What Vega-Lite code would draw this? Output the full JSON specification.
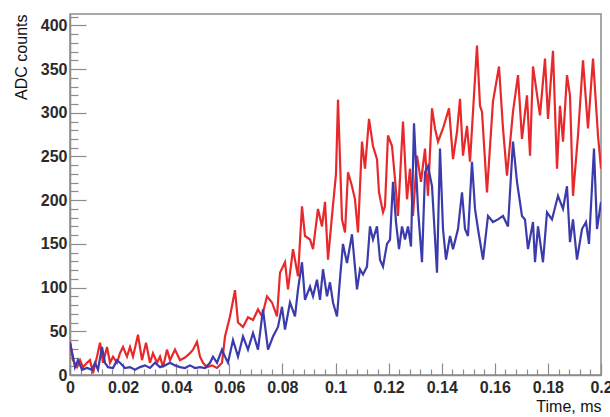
{
  "$schema": "https://vega.github.io/schema/vega-lite/v6.json",
  "width": 531,
  "height": 361,
  "autosize": {"type": "none"},
  "padding": {"left": 70, "top": 14, "right": 9, "bottom": 42},
  "background": "white",
  "view": {"stroke": "#8c8c8c", "strokeWidth": 1.5},
  "config": {
    "axis": {
      "grid": false,
      "labelFont": "Liberation Sans",
      "titleFont": "Liberation Sans",
      "labelFontSize": 16,
      "titleFontSize": 16,
      "labelFontWeight": "bold",
      "labelColor": "#2a2a2a",
      "titleColor": "#111111",
      "titleFontWeight": "normal",
      "domainColor": "#8c8c8c",
      "domainWidth": 1.5,
      "tickColor": "#8c8c8c",
      "tickWidth": 1.2
    }
  },
  "datasets": {
    "red": [
      {"t": 0, "v": 38}, {"t": 0.00113, "v": 17}, {"t": 0.00264, "v": 9}, {"t": 0.00377, "v": 17}, {"t": 0.0049, "v": 9},
      {"t": 0.0064, "v": 14}, {"t": 0.00753, "v": 17}, {"t": 0.00866, "v": 2}, {"t": 0.01017, "v": 21}, {"t": 0.0113, "v": 37},
      {"t": 0.01243, "v": 14}, {"t": 0.01394, "v": 32}, {"t": 0.01507, "v": 14}, {"t": 0.0162, "v": 21}, {"t": 0.0177, "v": 14},
      {"t": 0.01883, "v": 25}, {"t": 0.01996, "v": 32}, {"t": 0.02147, "v": 21}, {"t": 0.0226, "v": 32}, {"t": 0.02373, "v": 21},
      {"t": 0.02561, "v": 46}, {"t": 0.02712, "v": 17}, {"t": 0.02863, "v": 37}, {"t": 0.03013, "v": 14}, {"t": 0.03126, "v": 25},
      {"t": 0.03277, "v": 14}, {"t": 0.0339, "v": 21}, {"t": 0.03503, "v": 9}, {"t": 0.03653, "v": 29}, {"t": 0.03766, "v": 17},
      {"t": 0.03955, "v": 29}, {"t": 0.04143, "v": 17}, {"t": 0.04331, "v": 20}, {"t": 0.0452, "v": 25}, {"t": 0.04633, "v": 29},
      {"t": 0.04783, "v": 38}, {"t": 0.04896, "v": 21}, {"t": 0.05009, "v": 14}, {"t": 0.0516, "v": 9}, {"t": 0.05348, "v": 11},
      {"t": 0.05537, "v": 8}, {"t": 0.05725, "v": 14}, {"t": 0.05838, "v": 44}, {"t": 0.06026, "v": 67}, {"t": 0.06215, "v": 97},
      {"t": 0.06328, "v": 60}, {"t": 0.06516, "v": 55}, {"t": 0.06704, "v": 66}, {"t": 0.06893, "v": 63}, {"t": 0.07081, "v": 75},
      {"t": 0.07232, "v": 67}, {"t": 0.0742, "v": 90}, {"t": 0.07608, "v": 83}, {"t": 0.07797, "v": 67}, {"t": 0.0791, "v": 117},
      {"t": 0.08098, "v": 129}, {"t": 0.08211, "v": 98}, {"t": 0.08399, "v": 144}, {"t": 0.08588, "v": 113}, {"t": 0.08738, "v": 193},
      {"t": 0.08851, "v": 159}, {"t": 0.0904, "v": 155}, {"t": 0.09153, "v": 144}, {"t": 0.09341, "v": 190}, {"t": 0.09492, "v": 170},
      {"t": 0.09605, "v": 198}, {"t": 0.09718, "v": 132}, {"t": 0.09868, "v": 182}, {"t": 0.10019, "v": 230}, {"t": 0.10094, "v": 315},
      {"t": 0.10245, "v": 178}, {"t": 0.10358, "v": 163}, {"t": 0.10471, "v": 232}, {"t": 0.10621, "v": 216}, {"t": 0.10734, "v": 201},
      {"t": 0.10847, "v": 163}, {"t": 0.10998, "v": 267}, {"t": 0.11111, "v": 236}, {"t": 0.11262, "v": 293}, {"t": 0.11412, "v": 262},
      {"t": 0.11563, "v": 247}, {"t": 0.11638, "v": 209}, {"t": 0.11789, "v": 186}, {"t": 0.11864, "v": 193}, {"t": 0.11977, "v": 274},
      {"t": 0.12128, "v": 262}, {"t": 0.12241, "v": 224}, {"t": 0.12354, "v": 182}, {"t": 0.12542, "v": 290}, {"t": 0.12693, "v": 201},
      {"t": 0.12806, "v": 236}, {"t": 0.12919, "v": 182}, {"t": 0.1307, "v": 251}, {"t": 0.1322, "v": 221}, {"t": 0.13371, "v": 259},
      {"t": 0.13484, "v": 205}, {"t": 0.13635, "v": 305}, {"t": 0.13748, "v": 282}, {"t": 0.13861, "v": 267}, {"t": 0.14049, "v": 282},
      {"t": 0.14275, "v": 305}, {"t": 0.14426, "v": 247}, {"t": 0.14576, "v": 278}, {"t": 0.14689, "v": 316}, {"t": 0.14802, "v": 251},
      {"t": 0.14953, "v": 285}, {"t": 0.15066, "v": 244}, {"t": 0.15329, "v": 377}, {"t": 0.15443, "v": 308}, {"t": 0.15518, "v": 301},
      {"t": 0.15706, "v": 209}, {"t": 0.15932, "v": 313}, {"t": 0.16158, "v": 353}, {"t": 0.16309, "v": 282}, {"t": 0.16459, "v": 228},
      {"t": 0.16685, "v": 301}, {"t": 0.16874, "v": 343}, {"t": 0.17024, "v": 270}, {"t": 0.17213, "v": 320}, {"t": 0.17326, "v": 251},
      {"t": 0.17439, "v": 353}, {"t": 0.17702, "v": 297}, {"t": 0.17891, "v": 362}, {"t": 0.18004, "v": 293}, {"t": 0.18192, "v": 371},
      {"t": 0.18343, "v": 236}, {"t": 0.18456, "v": 308}, {"t": 0.18569, "v": 267}, {"t": 0.18719, "v": 343}, {"t": 0.18832, "v": 320},
      {"t": 0.18945, "v": 205}, {"t": 0.19133, "v": 274}, {"t": 0.19322, "v": 360}, {"t": 0.1951, "v": 282}, {"t": 0.19699, "v": 362},
      {"t": 0.19887, "v": 274}, {"t": 0.2, "v": 236}
    ],
    "blue": [
      {"t": 0, "v": 37}, {"t": 0.00113, "v": 21}, {"t": 0.00188, "v": 9}, {"t": 0.00301, "v": 17}, {"t": 0.00452, "v": 6},
      {"t": 0.0064, "v": 8}, {"t": 0.00829, "v": 6}, {"t": 0.00942, "v": 14}, {"t": 0.01055, "v": 6}, {"t": 0.01205, "v": 32},
      {"t": 0.01318, "v": 14}, {"t": 0.01431, "v": 9}, {"t": 0.0162, "v": 8}, {"t": 0.0177, "v": 17}, {"t": 0.01883, "v": 14},
      {"t": 0.02072, "v": 8}, {"t": 0.0226, "v": 9}, {"t": 0.02448, "v": 6}, {"t": 0.02637, "v": 9}, {"t": 0.02825, "v": 11},
      {"t": 0.03013, "v": 8}, {"t": 0.03202, "v": 14}, {"t": 0.0339, "v": 9}, {"t": 0.03578, "v": 11}, {"t": 0.03766, "v": 14},
      {"t": 0.03955, "v": 11}, {"t": 0.04143, "v": 9}, {"t": 0.04331, "v": 8}, {"t": 0.0452, "v": 11}, {"t": 0.04708, "v": 8},
      {"t": 0.04896, "v": 9}, {"t": 0.05085, "v": 8}, {"t": 0.05273, "v": 14}, {"t": 0.05386, "v": 21}, {"t": 0.05537, "v": 14},
      {"t": 0.05725, "v": 29}, {"t": 0.05838, "v": 21}, {"t": 0.05951, "v": 14}, {"t": 0.06139, "v": 40}, {"t": 0.06328, "v": 21},
      {"t": 0.06516, "v": 44}, {"t": 0.06704, "v": 29}, {"t": 0.06893, "v": 48}, {"t": 0.07081, "v": 29}, {"t": 0.07269, "v": 75},
      {"t": 0.07458, "v": 29}, {"t": 0.07646, "v": 44}, {"t": 0.07834, "v": 55}, {"t": 0.07985, "v": 78}, {"t": 0.08098, "v": 52},
      {"t": 0.08286, "v": 83}, {"t": 0.08475, "v": 67}, {"t": 0.08588, "v": 98}, {"t": 0.08738, "v": 129}, {"t": 0.08851, "v": 86},
      {"t": 0.0904, "v": 101}, {"t": 0.09153, "v": 90}, {"t": 0.09303, "v": 109}, {"t": 0.09416, "v": 86}, {"t": 0.09529, "v": 121},
      {"t": 0.0968, "v": 90}, {"t": 0.09793, "v": 106}, {"t": 0.09906, "v": 83}, {"t": 0.10056, "v": 67}, {"t": 0.10169, "v": 110},
      {"t": 0.10282, "v": 150}, {"t": 0.10433, "v": 128}, {"t": 0.10621, "v": 161}, {"t": 0.1081, "v": 98}, {"t": 0.10923, "v": 121},
      {"t": 0.11036, "v": 115}, {"t": 0.11186, "v": 124}, {"t": 0.11299, "v": 170}, {"t": 0.11412, "v": 155}, {"t": 0.11563, "v": 170},
      {"t": 0.11676, "v": 132}, {"t": 0.11789, "v": 124}, {"t": 0.1194, "v": 150}, {"t": 0.12053, "v": 155}, {"t": 0.12166, "v": 221},
      {"t": 0.12279, "v": 175}, {"t": 0.12392, "v": 144}, {"t": 0.12505, "v": 170}, {"t": 0.12618, "v": 155}, {"t": 0.12731, "v": 170},
      {"t": 0.12844, "v": 147}, {"t": 0.12957, "v": 288}, {"t": 0.13107, "v": 190}, {"t": 0.13258, "v": 129}, {"t": 0.13371, "v": 232},
      {"t": 0.13484, "v": 239}, {"t": 0.13635, "v": 216}, {"t": 0.13823, "v": 117}, {"t": 0.13936, "v": 259}, {"t": 0.14049, "v": 167},
      {"t": 0.14162, "v": 132}, {"t": 0.14313, "v": 159}, {"t": 0.14426, "v": 144}, {"t": 0.14614, "v": 167}, {"t": 0.14765, "v": 209},
      {"t": 0.14878, "v": 167}, {"t": 0.1499, "v": 159}, {"t": 0.15141, "v": 244}, {"t": 0.15254, "v": 190}, {"t": 0.15367, "v": 167},
      {"t": 0.15556, "v": 132}, {"t": 0.15744, "v": 182}, {"t": 0.15932, "v": 175}, {"t": 0.16121, "v": 178}, {"t": 0.16309, "v": 182},
      {"t": 0.16497, "v": 170}, {"t": 0.16685, "v": 267}, {"t": 0.16836, "v": 221}, {"t": 0.17024, "v": 182}, {"t": 0.17137, "v": 178},
      {"t": 0.1725, "v": 144}, {"t": 0.17439, "v": 175}, {"t": 0.17514, "v": 129}, {"t": 0.17627, "v": 170}, {"t": 0.17815, "v": 129},
      {"t": 0.17966, "v": 186}, {"t": 0.18154, "v": 178}, {"t": 0.1838, "v": 205}, {"t": 0.18569, "v": 190}, {"t": 0.18719, "v": 216},
      {"t": 0.18832, "v": 152}, {"t": 0.18945, "v": 178}, {"t": 0.19096, "v": 132}, {"t": 0.19284, "v": 167}, {"t": 0.19435, "v": 175},
      {"t": 0.19548, "v": 150}, {"t": 0.19736, "v": 259}, {"t": 0.19849, "v": 167}, {"t": 0.2, "v": 198}
    ]
  },
  "layer": [
    {
      "data": {"name": "red"},
      "mark": {"type": "line", "color": "#e8292b", "strokeWidth": 2.2, "clip": true},
      "encoding": {
        "x": {
          "field": "t", "type": "quantitative",
          "scale": {"domain": [0, 0.2], "nice": false, "zero": false},
          "axis": {
            "orient": "bottom",
            "values": [0, 0.02, 0.04, 0.06, 0.08, 0.1, 0.12, 0.14, 0.16, 0.18, 0.2],
            "format": "~g",
            "tickSize": -12,
            "labelPadding": 16,
            "labelFlush": false,
            "labelOverlap": false,
            "title": "Time, ms",
            "titleAnchor": "end",
            "titleAlign": "right",
            "titleBaseline": "alphabetic",
            "titleX": 531,
            "titleY": 36
          }
        },
        "y": {
          "field": "v", "type": "quantitative",
          "scale": {"domain": [0, 413], "nice": false},
          "axis": {
            "orient": "left",
            "values": [0, 50, 100, 150, 200, 250, 300, 350, 400],
            "tickSize": -16,
            "labelPadding": 19,
            "labelFlush": false,
            "labelOverlap": false,
            "title": "ADC counts",
            "titleAnchor": "end",
            "titleAlign": "right",
            "titleAngle": 270,
            "titleBaseline": "alphabetic",
            "titleX": -44,
            "titleY": 0
          }
        }
      }
    },
    {
      "data": {"name": "blue"},
      "mark": {"type": "line", "color": "#3b3bab", "strokeWidth": 2.2, "clip": true},
      "encoding": {
        "x": {
          "field": "t", "type": "quantitative",
          "axis": {
            "orient": "bottom",
            "values": [0.004, 0.008, 0.012, 0.016, 0.024, 0.028, 0.032, 0.036, 0.044, 0.048, 0.052, 0.056, 0.064, 0.068, 0.072, 0.076, 0.084, 0.088, 0.092, 0.096, 0.104, 0.108, 0.112, 0.116, 0.124, 0.128, 0.132, 0.136, 0.144, 0.148, 0.152, 0.156, 0.164, 0.168, 0.172, 0.176, 0.184, 0.188, 0.192, 0.196],
            "tickSize": -6,
            "labels": false,
            "domain": false,
            "title": null
          }
        },
        "y": {
          "field": "v", "type": "quantitative",
          "axis": {
            "orient": "left",
            "values": [10, 20, 30, 40, 60, 70, 80, 90, 110, 120, 130, 140, 160, 170, 180, 190, 210, 220, 230, 240, 260, 270, 280, 290, 310, 320, 330, 340, 360, 370, 380, 390, 410],
            "tickSize": -8,
            "labels": false,
            "domain": false,
            "title": null
          }
        }
      }
    }
  ],
  "resolve": {"axis": {"x": "independent", "y": "independent"}}
}
